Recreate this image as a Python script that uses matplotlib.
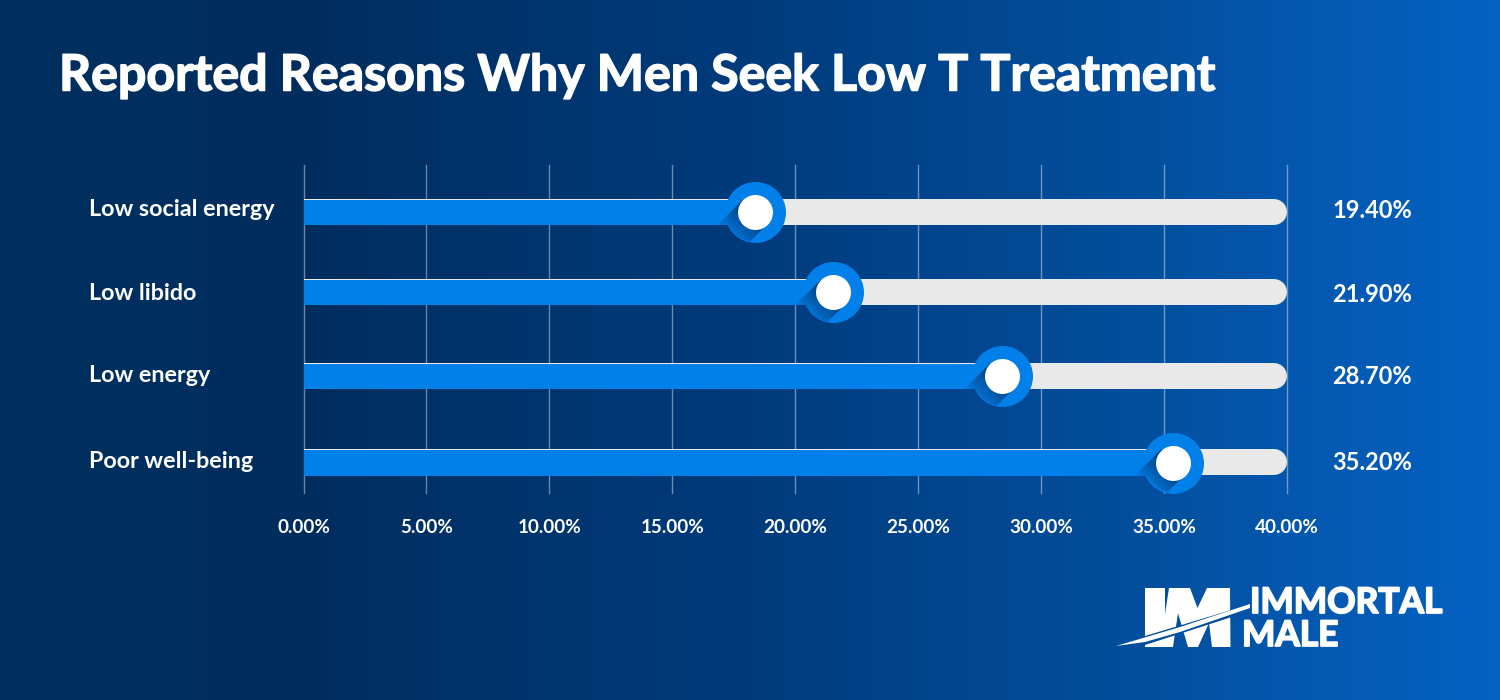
import numpy as np
import matplotlib
matplotlib.use("Agg")
import matplotlib.pyplot as plt
import matplotlib.patheffects as pe
from matplotlib.patches import Polygon
from matplotlib.colors import LinearSegmentedColormap, to_rgb

plt.rcParams['font.family'] = ['Lato', 'DejaVu Sans']

categories = ["Low social energy", "Low libido", "Low energy", "Poor well-being"]
values = [19.4, 21.9, 28.7, 35.2]
# the knobs in the picture do not sit exactly on the printed values
knob_values = [18.35, 21.52, 28.4, 35.38]
ticks = [0, 5, 10, 15, 20, 25, 30, 35, 40]

W, H = 1500, 700
X0, X1 = 303.5, 1287.0
Y0, Y1 = 165, 493
row_y = [212, 292, 376, 462.5]
label_y = [210, 294, 376, 462]
PX = (X1 - X0) / 40  # pixels per percent
PT = 72 / 100        # points per pixel

BLUE = "#0280EA"
TRACK = "#E9E9E9"

fig = plt.figure(figsize=(W / 100, H / 100), dpi=100)

# background gradient
bg = fig.add_axes([0, 0, 1, 1])
cmap = LinearSegmentedColormap.from_list("bg", [(0, "#01305F"), (0.2, "#002D5E"), (0.5, "#013B7C"),
                                                (0.75, "#034E9C"), (1, "#0562C3")])
bg.imshow(np.linspace(0, 1, 750).reshape(1, -1), cmap=cmap, aspect="auto", extent=(0, W, H, 0))
bg.set_xlim(0, W)
bg.set_ylim(H, 0)
bg.axis("off")

heavy = [pe.withStroke(linewidth=1.1, foreground="white")]
bg.text(59, 76, "Reported Reasons Why Men Seek Low T Treatment", color="white", fontsize=36.05,
        fontweight="bold", va="center", ha="left", path_effects=heavy)

# logo, pixel outlines
logo_white = [
    [(1145, 588), (1165, 588), (1165, 647), (1145, 647)],
    [(1169, 588), (1190, 588), (1197.5, 608), (1207, 588), (1230, 588), (1230.5, 647), (1212, 647),
     (1209, 623), (1198, 647), (1188, 647), (1178, 613), (1173, 647), (1160, 647)],
]
for pts in logo_white:
    bg.add_patch(Polygon(pts, closed=True, color="white", lw=0))
bg.add_patch(Polygon([(1116, 646), (1145, 636), (1238, 608), (1238, 615), (1145, 645)], closed=True,
                     color="#024D9C", lw=0))
bg.add_patch(Polygon([(1116, 646), (1180, 627), (1250, 604), (1250, 608), (1180, 632), (1145, 642)],
                     closed=True, color="white", lw=0))
thick = [pe.withStroke(linewidth=1.3, foreground="white")]
bg.text(1250, 603, "IMMORTAL", color="white", fontsize=25.4, fontweight="bold", va="center", ha="left",
        path_effects=thick)
bg.text(1242, 636, "MALE", color="white", fontsize=25.4, fontweight="bold", va="center", ha="left",
        path_effects=thick)

# chart axes: x in percent, y in picture pixels
ax = fig.add_axes([X0 / W, 1 - Y1 / H, (X1 - X0) / W, (Y1 - Y0) / H])
ax.patch.set_alpha(0)
ax.set_xlim(0, 40)
ax.set_ylim(Y1, Y0)
for s in ax.spines.values():
    s.set_visible(False)
ax.set_yticks([])
ax.set_xticks(ticks)
ax.set_xticklabels([f"{t:.2f}%" for t in ticks], color="white", fontsize=13.6, fontweight="bold")
ax.tick_params(axis="x", length=0, pad=19)
for t in ticks:
    ax.axvline(t, color="white", alpha=0.42, lw=1, zorder=1, clip_on=False)

track_lw = 26 * PT
shadow_dark = to_rgb("#02376F")

for i, name in enumerate(categories):
    y = row_y[i]
    k = knob_values[i]
    # grey track with round right end
    ax.plot([5, 40 - 13 / PX], [y - 0.3, y - 0.3], color=TRACK, lw=track_lw, solid_capstyle="round", zorder=2)
    ax.barh(y - 0.3, 5, height=26, left=0.04, color=TRACK, zorder=2)
    # blue value bar
    ax.barh(y + 0.6, k - 0.04, height=25.5, left=0.04, color=BLUE, zorder=3)
    # knob
    ax.scatter([k], [y], s=(61 * PT) ** 2, color=BLUE, linewidths=0, zorder=4)

    # long shadow under the white circle, towards lower left, on the knob and the bar only
    xs, ys = np.meshgrid(np.arange(-60, 40) + 0.5, np.arange(-40, 60) + 0.5)
    along = (-xs + ys) / np.sqrt(2)
    across = (xs + ys) / np.sqrt(2)
    rgba = np.zeros(xs.shape + (4,))
    rgba[..., :3] = shadow_dark
    alpha = np.clip(1.0 - along / 38, 0, 1)
    alpha *= np.clip(17.8 - np.abs(across), 0, 1)
    alpha[along < 0] = 0
    in_knob = np.clip(30.5 - np.hypot(xs, ys), 0, 1)
    in_bar = ((ys > -12.5) & (ys < 13.8)).astype(float)
    alpha *= np.maximum(in_knob, in_bar)
    rgba[..., 3] = alpha
    ax.imshow(rgba, extent=(k - 60 / PX, k + 40 / PX, y + 60, y - 40), origin="upper",
              aspect="auto", zorder=5, interpolation="nearest")

    ax.scatter([k], [y], s=(35 * PT) ** 2, color="white", linewidths=0, zorder=6)

    bg.text(89, label_y[i], name, color="white", fontsize=16.8, fontweight="bold", va="center", ha="left")
    bg.text(1332, label_y[i] + 1, f"{values[i]:.2f}%", color="white", fontsize=17, fontweight="bold",
            va="center", ha="left")

ax.set_xlim(0, 40)
ax.set_ylim(Y1, Y0)

fig.savefig("out.png", dpi=100)
